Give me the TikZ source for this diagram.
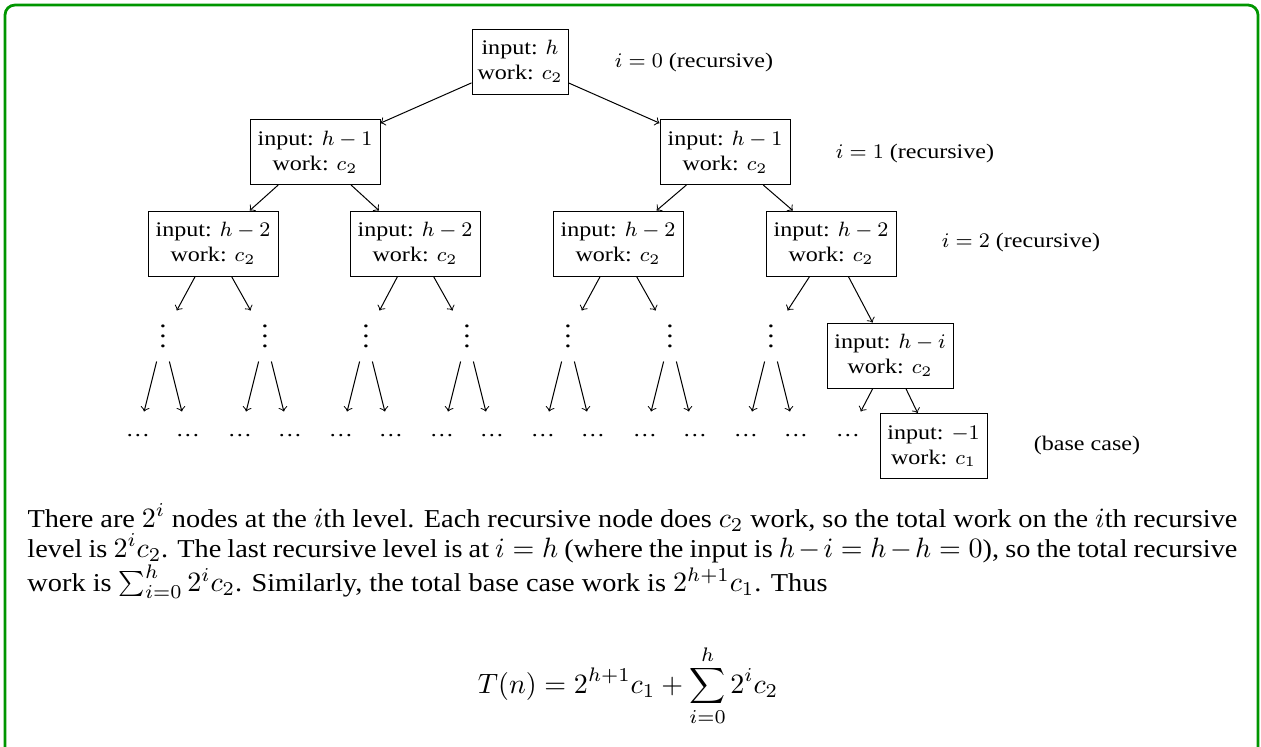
\RequirePackage{fix-cm}
\documentclass[tikz,border=0pt]{standalone}
\usepackage[no-math]{fontspec}
\setmainfont{Liberation Serif}[FakeStretch=1.16]
\newfontfamily\parafam{Liberation Serif}[Scale=0.92, FakeStretch=1.1]
\definecolor{framegreen}{RGB}{0,150,0}
\newcommand\treefont{\fontsize{8.3}{10}\selectfont}
\newcommand\parafont{\parafam\fontsize{11.2}{12}\selectfont}
\newcommand\vdotsc{\raisebox{-4.5pt}[0pt][0pt]{$\vdots$}}
\tikzset{
  tbox/.style={draw, align=center, font=\treefont, inner xsep=2pt, inner ysep=0pt, minimum height=26pt},
  lbl/.style={font=\treefont, inner sep=0pt},
  vd/.style={inner sep=0pt, minimum height=20pt, minimum width=14pt},
  ed/.style={font=\treefont, inner sep=0pt, minimum height=19.2pt, minimum width=12pt},
  arr/.style={->, line width=0.4pt},
  frame/.style={draw=framegreen, line width=1.1pt, rounded corners=4pt}
}
\begin{document}
\begin{tikzpicture}[x=0.4pt, y=-0.4pt]
\useasboundingbox (0,0) rectangle (1261,747);
\draw[frame] (5,800) -- (5,5) -- (1258,5) -- (1258,800);

% tree
\node[tbox, minimum width=38.4pt] (r) at (520,61.5) {input: $h$\\work: $c_2$};
\node[tbox, minimum width=52pt] (a) at (315,152) {input: $h-1$\\work: $c_2$};
\node[tbox, minimum width=52pt] (b) at (725,152) {input: $h-1$\\work: $c_2$};
\node[tbox, minimum width=52pt] (aa) at (213,243.5) {input: $h-2$\\work: $c_2$};
\node[tbox, minimum width=52pt] (ab) at (415,243.5) {input: $h-2$\\work: $c_2$};
\node[tbox, minimum width=52pt] (ba) at (618,243.5) {input: $h-2$\\work: $c_2$};
\node[tbox, minimum width=52pt] (bb) at (831,243.5) {input: $h-2$\\work: $c_2$};
\node[tbox, minimum width=50.4pt] (li) at (890,355.5) {input: $h-i$\\work: $c_2$};
\node[tbox, minimum width=42.8pt] (base) at (933.5,446) {input: $-1$\\work: $c_1$};

\node[lbl] (l0) at (694,63) {$i=0$ (recursive)};
\node[lbl] (l1) at (915,154) {$i=1$ (recursive)};
\node[lbl] (l2) at (1021,243) {$i=2$ (recursive)};
\node[lbl] (lb) at (1087,446) {(base case)};

\draw[arr] (r) -- (a);
\draw[arr] (r) -- (b);
\draw[arr] (a) -- (aa);
\draw[arr] (a) -- (ab);
\draw[arr] (b) -- (ba);
\draw[arr] (b) -- (bb);

\foreach \x [count=\k] in {163,265,366,467,568,670,771} {
  \node[vd] (v\k) at (\x,336) {\vdotsc};
  \pgfmathtruncatemacro\ea{2*\k-1}
  \pgfmathtruncatemacro\eb{2*\k}
  \node[ed] (e\ea) at (\x-25,436) {\dots};
  \node[ed] (e\eb) at (\x+25,436) {\dots};
  \draw[arr] (v\k) -- (e\ea);
  \draw[arr] (v\k) -- (e\eb);
}
\node[ed] (e15) at (848,436) {\dots};

\draw[arr] (aa) -- (v1);
\draw[arr] (aa) -- (v2);
\draw[arr] (ab) -- (v3);
\draw[arr] (ab) -- (v4);
\draw[arr] (ba) -- (v5);
\draw[arr] (ba) -- (v6);
\draw[arr] (bb) -- (v7);
\draw[arr] (bb) -- (li);
\draw[arr] (li) -- (e15);
\draw[arr] (li) -- (base);

% paragraph
\node[anchor=base west, inner sep=0pt, font=\parafont] (para) at (27,527) {\parbox[t]{484pt}{\parafont\hyphenpenalty=10000 There are $2^i$ nodes at the $i$th level. Each recursive node does $c_2$ work, so the total work on the $i$th recursive\linebreak level is $2^ic_2$. The last recursive level is at $i=h$ (where the input is $h-i=h-h=0$), so the total recursive\linebreak work is $\sum_{i=0}^h 2^ic_2$. Similarly, the total base case work is $2^{h+1}c_1$. Thus}};
\node[anchor=base, inner sep=0pt, font=\parafont] (eq) at (628,693) {$\displaystyle T(n)=2^{h+1}c_1+\sum_{i=0}^h 2^ic_2$};
\end{tikzpicture}
\end{document}
